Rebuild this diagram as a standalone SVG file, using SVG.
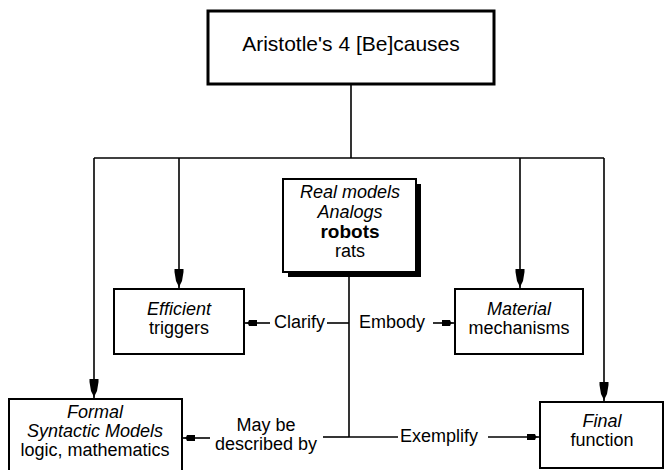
<svg xmlns="http://www.w3.org/2000/svg" width="665" height="470" viewBox="0 0 665 470">
<style>
text{font-family:"Liberation Sans",Arial,Helvetica,sans-serif;font-size:18px;fill:#000;text-anchor:middle}
.it{font-style:italic}
.b{font-weight:bold;font-size:19px}
.title{font-size:21px}
.box{fill:#fff;stroke:#000;stroke-width:2}
.con{fill:none;stroke:#000;stroke-width:1.6}
.l{text-anchor:start}
.r{text-anchor:end}
</style>
<defs>
<marker id="av" markerUnits="userSpaceOnUse" markerWidth="22" markerHeight="12" viewBox="-20 -6 22 12" refX="0" refY="0" orient="auto">
<path d="M0,0 L-3,-1 L-7,-3 L-16,-4.5 L-19,-4.5 L-19,4.5 L-16,4.5 L-7,3 L-3,1 Z" fill="#000"/>
</marker>
<marker id="ah" markerUnits="userSpaceOnUse" markerWidth="16" markerHeight="10" viewBox="-14 -5 16 10" refX="0" refY="0" orient="auto">
<path d="M0,0 L-3,-0.8 L-4,-3 L-12,-3 L-12,3 L-4,3 L-3,0.8 Z" fill="#000"/>
</marker>
</defs>

<g id="connectors">
<path class="con" d="M351,85 V158"/>
<path class="con" d="M94,158 H604"/>
<path class="con" d="M94,158 V398" marker-end="url(#av)"/>
<path class="con" d="M179,158 V288" marker-end="url(#av)"/>
<path class="con" d="M520,158 V288" marker-end="url(#av)"/>
<path class="con" d="M604,158 V401" marker-end="url(#av)"/>
<path class="con" d="M349,272 V437"/>
<path class="con" d="M349,323 H327"/>
<path class="con" d="M270,323 H245" marker-end="url(#ah)"/>
<text x="274" y="328" class="l">Clarify</text>
<text x="359" y="328" class="l">Embody</text>
<path class="con" d="M433,323 H454" marker-end="url(#ah)"/>
<path class="con" d="M349,437 H323"/>
<text x="266" y="431">May be</text>
<text x="266" y="450">described by</text>
<path class="con" d="M210,438 H183" marker-end="url(#ah)"/>
<path class="con" d="M349,437 H398"/>
<text x="400" y="442" class="l">Exemplify</text>
<path class="con" d="M488,437 H539" marker-end="url(#ah)"/>
</g>

<g id="title">
<rect x="208" y="11" width="286" height="73" fill="#fff" stroke="#000" stroke-width="3"/>
<text x="351" y="51" class="title">Aristotle's 4 [Be]causes</text>
</g>

<g id="real">
<rect x="288" y="184" width="133" height="93" fill="#000"/>
<rect x="283" y="179" width="133" height="93" class="box"/>
<text x="350" y="198" class="it">Real models</text>
<text x="350" y="218" class="it">Analogs</text>
<text x="350" y="238" class="b">robots</text>
<text x="350" y="257">rats</text>
</g>

<g id="efficient">
<rect x="114" y="289" width="130" height="65" class="box"/>
<text x="179" y="315" class="it">Efficient</text>
<text x="179" y="334">triggers</text>
</g>

<g id="material">
<rect x="455" y="289" width="128" height="65" class="box"/>
<text x="519" y="315" class="it">Material</text>
<text x="519" y="334">mechanisms</text>
</g>

<g id="formal">
<rect x="9" y="399" width="173" height="76" class="box"/>
<text x="95" y="418" class="it">Formal</text>
<text x="95" y="437" class="it">Syntactic Models</text>
<text x="95" y="456">logic, mathematics</text>
</g>

<g id="final">
<rect x="540" y="402" width="123" height="66" class="box"/>
<text x="602" y="427" class="it">Final</text>
<text x="602" y="446">function</text>
</g>
</svg>
